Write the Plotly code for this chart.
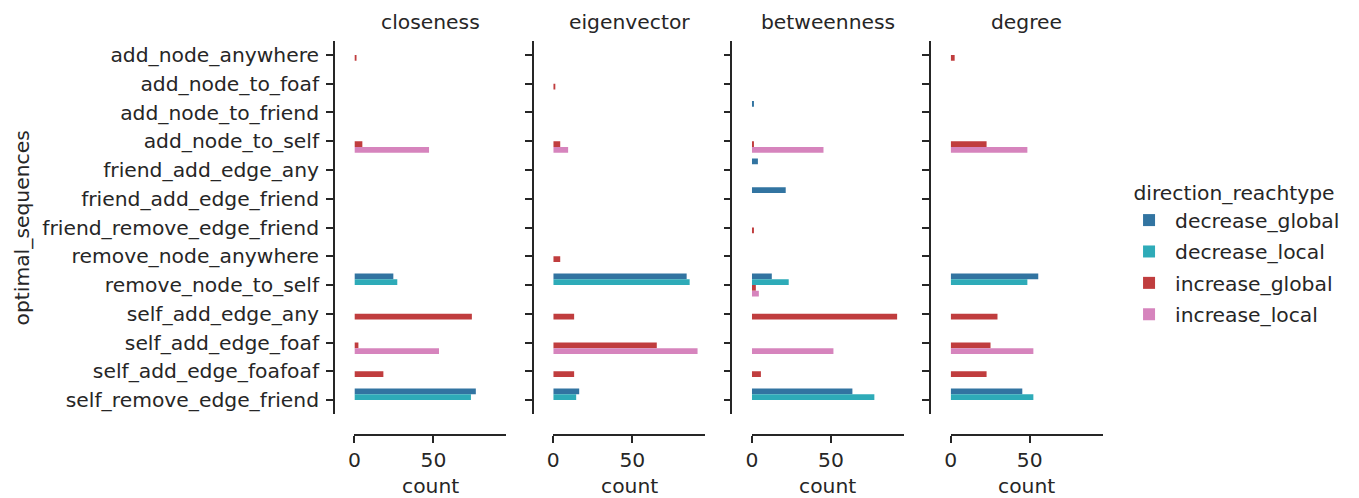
import plotly.graph_objects as go

W, H = 1359, 498

categories = [
    "add_node_anywhere", "add_node_to_foaf", "add_node_to_friend", "add_node_to_self",
    "friend_add_edge_any", "friend_add_edge_friend", "friend_remove_edge_friend",
    "remove_node_anywhere", "remove_node_to_self", "self_add_edge_any",
    "self_add_edge_foaf", "self_add_edge_foafoaf", "self_remove_edge_friend",
]
metrics = ["closeness", "eigenvector", "betweenness", "degree"]
hues = ["decrease_global", "decrease_local", "increase_global", "increase_local"]
hue_colors = ["#3274a1", "#2eabb8", "#c03d3e", "#d684bd"]
x_tickvals = [0, 50]

N = None
# values per category (order as in `categories`), None = no bar
closeness_decrease_global = [N, N, N, N, N, N, N, N, 24.6, N, N, N, 76.8]
closeness_decrease_local = [N, N, N, N, N, N, N, N, 27.1, N, N, N, 73.7]
closeness_increase_global = [1.3, N, N, 5.0, N, N, N, N, N, 74.3, 2.5, 18.3, N]
closeness_increase_local = [N, N, N, 47.2, N, N, N, N, N, N, 53.5, N, N]

eigenvector_decrease_global = [N, N, N, N, N, N, N, N, 84.4, N, N, N, 16.4]
eigenvector_decrease_local = [N, N, N, N, N, N, N, N, 86.3, N, N, N, 14.5]
eigenvector_increase_global = [N, 1.3, N, 4.4, N, N, N, 4.4, N, 13.2, 65.5, 13.2, N]
eigenvector_increase_local = [N, N, N, 9.4, N, N, N, N, N, N, 91.3, N, N]

betweenness_decrease_global = [N, N, 1.3, N, 3.8, 21.4, N, N, 12.6, N, N, N, 63.6]
betweenness_decrease_local = [N, N, N, N, N, N, N, N, 23.3, N, N, N, 77.5]
betweenness_increase_global = [N, N, N, 1.3, N, N, 1.3, N, 2.5, 91.9, N, 5.7, N]
betweenness_increase_local = [N, N, N, 45.3, N, N, N, N, 4.4, N, 51.6, N, N]

degree_decrease_global = [N, N, N, N, N, N, N, N, 55.4, N, N, N, 45.3]
degree_decrease_local = [N, N, N, N, N, N, N, N, 48.5, N, N, N, 52.3]
degree_increase_global = [2.5, N, N, 22.7, N, N, N, N, N, 29.6, 25.2, 22.7, N]
degree_increase_local = [N, N, N, 48.5, N, N, N, N, N, N, 52.3, N, N]

data = {
    "closeness": [closeness_decrease_global, closeness_decrease_local,
                  closeness_increase_global, closeness_increase_local],
    "eigenvector": [eigenvector_decrease_global, eigenvector_decrease_local,
                    eigenvector_increase_global, eigenvector_increase_local],
    "betweenness": [betweenness_decrease_global, betweenness_decrease_local,
                    betweenness_increase_global, betweenness_increase_local],
    "degree": [degree_decrease_global, degree_decrease_local,
               degree_increase_global, degree_increase_local],
}

X_MAX = 96.2
panel_x0 = [350.0, 549.7, 749.2, 948.9]   # pixel of x=0 in each panel
panel_w = 152.7
spine_offset = 20.5
y_top, y_bot = 40.6, 414.4
x_spine_y = 435.0

TXT = "#262626"
FONT = "DejaVu Sans"
FS = 20.3

fig = go.Figure()
layout = dict(
    width=W, height=H, margin=dict(l=0, r=0, t=0, b=0),
    paper_bgcolor="white", plot_bgcolor="white",
    font=dict(family=FONT, size=FS, color=TXT),
    barmode="group", bargap=0.2, bargroupgap=0.0,
    showlegend=True,
)
annotations = []
for i, m in enumerate(metrics):
    sfx = "" if i == 0 else str(i + 1)
    for h, (hue, col) in enumerate(zip(hues, hue_colors)):
        fig.add_trace(go.Bar(
            y=categories, x=data[m][h], orientation="h", name=hue,
            marker=dict(color=col, line=dict(width=0)),
            legendgroup=hue, showlegend=(i == 0),
            xaxis="x" + sfx, yaxis="y" + sfx,
        ))
    x0 = panel_x0[i]
    layout["xaxis" + sfx] = dict(
        domain=[x0 / W, (x0 + panel_w) / W], range=[0, X_MAX],
        anchor="free", position=1 - x_spine_y / H,
        tickvals=x_tickvals, ticks="outside", ticklen=7, tickwidth=1.6,
        tickcolor=TXT, showline=True, linewidth=1.8, linecolor=TXT,
        showgrid=False, zeroline=False, tickfont=dict(size=FS, color=TXT),
    )
    layout["yaxis" + sfx] = dict(
        domain=[1 - y_bot / H, 1 - y_top / H],
        anchor="free", position=(x0 - spine_offset) / W,
        categoryorder="array", categoryarray=categories,
        range=[len(categories) - 0.5, -0.5],
        ticks="outside", ticklen=7, tickwidth=1.6, tickcolor=TXT,
        showline=True, linewidth=1.8, linecolor=TXT,
        showgrid=False, zeroline=False, showticklabels=(i == 0),
        tickfont=dict(size=FS, color=TXT), ticklabelstandoff=3,
    )
    cx = (x0 + panel_w / 2) / W
    annotations.append(dict(text=m, x=cx, y=1 - 22 / H, xref="paper", yref="paper",
                            xanchor="center", yanchor="middle", showarrow=False,
                            font=dict(size=FS, color=TXT)))
    annotations.append(dict(text="count", x=cx, y=1 - 486 / H, xref="paper", yref="paper",
                            xanchor="center", yanchor="middle", showarrow=False,
                            font=dict(size=FS, color=TXT)))

annotations.append(dict(text="optimal_sequences", x=16 / W, y=1 - 227.5 / H,
                        xref="paper", yref="paper", textangle=-90,
                        xanchor="center", yanchor="middle", showarrow=False,
                        font=dict(size=FS, color=TXT)))
layout["annotations"] = annotations
layout["legend"] = dict(
    x=1122 / W, y=1 - 174 / H, xanchor="left", yanchor="top",
    title=dict(text="direction_reachtype", side="top center", font=dict(size=FS)),
    font=dict(size=FS, color=TXT), itemwidth=42, tracegroupgap=2,
    bgcolor="rgba(0,0,0,0)",
)
fig.update_layout(**layout)
fig.write_html("out.html", config={"displayModeBar": False},
               post_script="document.body.style.margin='0';")
